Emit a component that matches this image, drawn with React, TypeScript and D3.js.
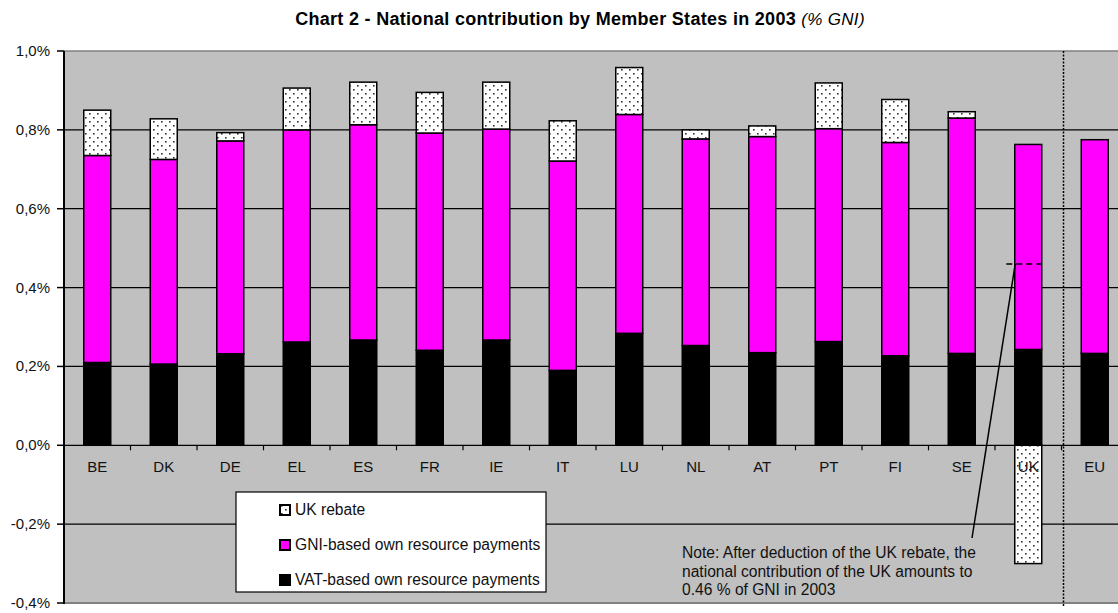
import React from "react";
import * as d3 from "d3";

const categories = ["BE","DK","DE","EL","ES","FR","IE","IT","LU","NL","AT","PT","FI","SE","UK","EU"];
const vatValues = [0.210,0.206,0.232,0.262,0.267,0.241,0.267,0.190,0.284,0.253,0.235,0.263,0.227,0.233,0.243,0.233];
const gniValues = [0.525,0.519,0.540,0.538,0.546,0.551,0.535,0.531,0.555,0.524,0.548,0.540,0.541,0.597,0.520,0.542];
const rebateValues = [0.115,0.103,0.021,0.106,0.108,0.103,0.119,0.102,0.119,0.023,0.027,0.116,0.109,0.016,-0.30,0];
const yTicks = [-0.4,-0.2,0,0.2,0.4,0.6,0.8,1.0];
const ukNetContribution = 0.46;
const legendItems = ["UK rebate","GNI-based own resource payments","VAT-based own resource payments"];
const noteLines = [
  "Note: After deduction of the UK rebate, the",
  "national contribution of the UK amounts to",
  "0.46 % of GNI in 2003",
];

const W = 1118, H = 613;
const FONT = "'Liberation Sans', Arial, sans-serif";
const left = 64, top = 51, bottom = 603;

export default function App() {
  const y = d3.scaleLinear().domain([-0.4, 1.0]).range([bottom, top]);
  const x = d3.scaleBand<string>().domain(categories).range([left, left + 16 * 66.5]).padding(0);
  const step = x.step();
  const bw = 27;
  const fmt = (v: number) => d3.format(".1f")(v).replace(".", ",").replace("−", "-") + "%";
  const ukX = (x("UK") as number) + step / 2;
  const sepX = (x("EU") as number) + 2;

  const bars = categories.map((c, i) => {
    const cx = (x(c) as number) + step / 2;
    const v = vatValues[i], g = gniValues[i], r = rebateValues[i];
    const segs: { y0: number; y1: number; fill: string }[] = [];
    segs.push({ y0: 0, y1: v, fill: "#000" });
    segs.push({ y0: v, y1: v + g, fill: "#ff00ff" });
    if (r > 0) segs.push({ y0: v + g, y1: v + g + r, fill: "url(#dots)" });
    else if (r < 0) segs.push({ y0: r, y1: 0, fill: "url(#dots)" });
    return { c, cx, segs };
  });

  return (
    <svg width={W} height={H} style={{ position: "absolute", left: 0, top: 0, background: "#fff" }} fontFamily={FONT}>
      <defs>
        <pattern id="dots" width={8} height={8} patternUnits="userSpaceOnUse">
          <rect width={8} height={8} fill="#fff" />
          <rect x={1} y={1} width={1.6} height={1.6} fill="#333" />
          <rect x={5} y={5} width={1.6} height={1.6} fill="#333" />
        </pattern>
      </defs>
      {/* title */}
      <text x={580} y={25} textAnchor="middle" fill="#000" letterSpacing={0.3}>
        <tspan fontWeight="bold" fontSize={18}>Chart 2 - National contribution by Member States in 2003 </tspan>
        <tspan fontStyle="italic" fontSize={17}>(% GNI)</tspan>
      </text>
      {/* plot background */}
      <rect x={left} y={top} width={W - left} height={bottom - top} fill="#c0c0c0" />
      <line x1={left} x2={W} y1={top} y2={top} stroke="#808080" strokeWidth={1.5} />
      <line x1={left} x2={W} y1={bottom} y2={bottom} stroke="#808080" strokeWidth={2} />
      {/* gridlines */}
      {yTicks.filter(t => t !== 1.0 && t !== -0.4).map(t => (
        <line key={t} x1={left} x2={W} y1={y(t)} y2={y(t)} stroke="#000" strokeWidth={1.2} />
      ))}
      {/* x ticks */}
      {d3.range(17).map(k => (
        <line key={k} x1={left + k * step} x2={left + k * step} y1={y(0)} y2={y(0) + 5} stroke="#000" strokeWidth={1.2} />
      ))}
      {/* bars */}
      {bars.map(b => (
        <g key={b.c}>
          {b.segs.map((s, j) => (
            <rect key={j} x={b.cx - bw / 2} y={y(s.y1)} width={bw} height={y(s.y0) - y(s.y1)} fill={s.fill} stroke="#000" strokeWidth={1.5} />
          ))}
        </g>
      ))}
      {/* separator */}
      <line x1={sepX} x2={sepX} y1={top} y2={bottom + 3} stroke="#000" strokeWidth={1.5} strokeDasharray="2,1.5" />
      {/* y axis */}
      <line x1={left} x2={left} y1={top} y2={bottom + 1} stroke="#000" strokeWidth={2} />
      {yTicks.map(t => (
        <g key={t}>
          <line x1={left - 7} x2={left} y1={y(t)} y2={y(t)} stroke="#000" strokeWidth={1.5} />
          <text x={50} y={y(t) + 5} textAnchor="end" fontSize={15} fill="#111">{fmt(t)}</text>
        </g>
      ))}
      {/* category labels */}
      {categories.map(c => (
        <text key={c} x={(x(c) as number) + step / 2} y={y(0) + 27} textAnchor="middle" fontSize={15} fill="#111">{c}</text>
      ))}
      {/* UK net contribution marker */}
      <line x1={ukX - 22} x2={ukX + bw / 2} y1={y(ukNetContribution)} y2={y(ukNetContribution)} stroke="#000" strokeWidth={1.5} strokeDasharray="6,4" />
      <line x1={972} y1={538} x2={ukX - 13} y2={y(ukNetContribution)} stroke="#000" strokeWidth={1.5} />
      {/* note */}
      {noteLines.map((l, i) => (
        <text key={i} x={682} y={558 + i * 18.5} fontSize={15.6} fill="#111">{l}</text>
      ))}
      {/* legend */}
      <rect x={236} y={492} width={310} height={100} fill="#fff" stroke="#000" strokeWidth={1.2} />
      {legendItems.map((l, i) => {
        const cy = 510 + i * 35;
        const fill = i === 0 ? "url(#dots)" : i === 1 ? "#ff00ff" : "#000";
        return (
          <g key={l}>
            <rect x={280} y={cy - 5} width={10} height={10} fill={fill} stroke="#000" strokeWidth={2} />
            <text x={295} y={cy + 5} fontSize={15.6} fill="#111">{l}</text>
          </g>
        );
      })}
    </svg>
  );
}
